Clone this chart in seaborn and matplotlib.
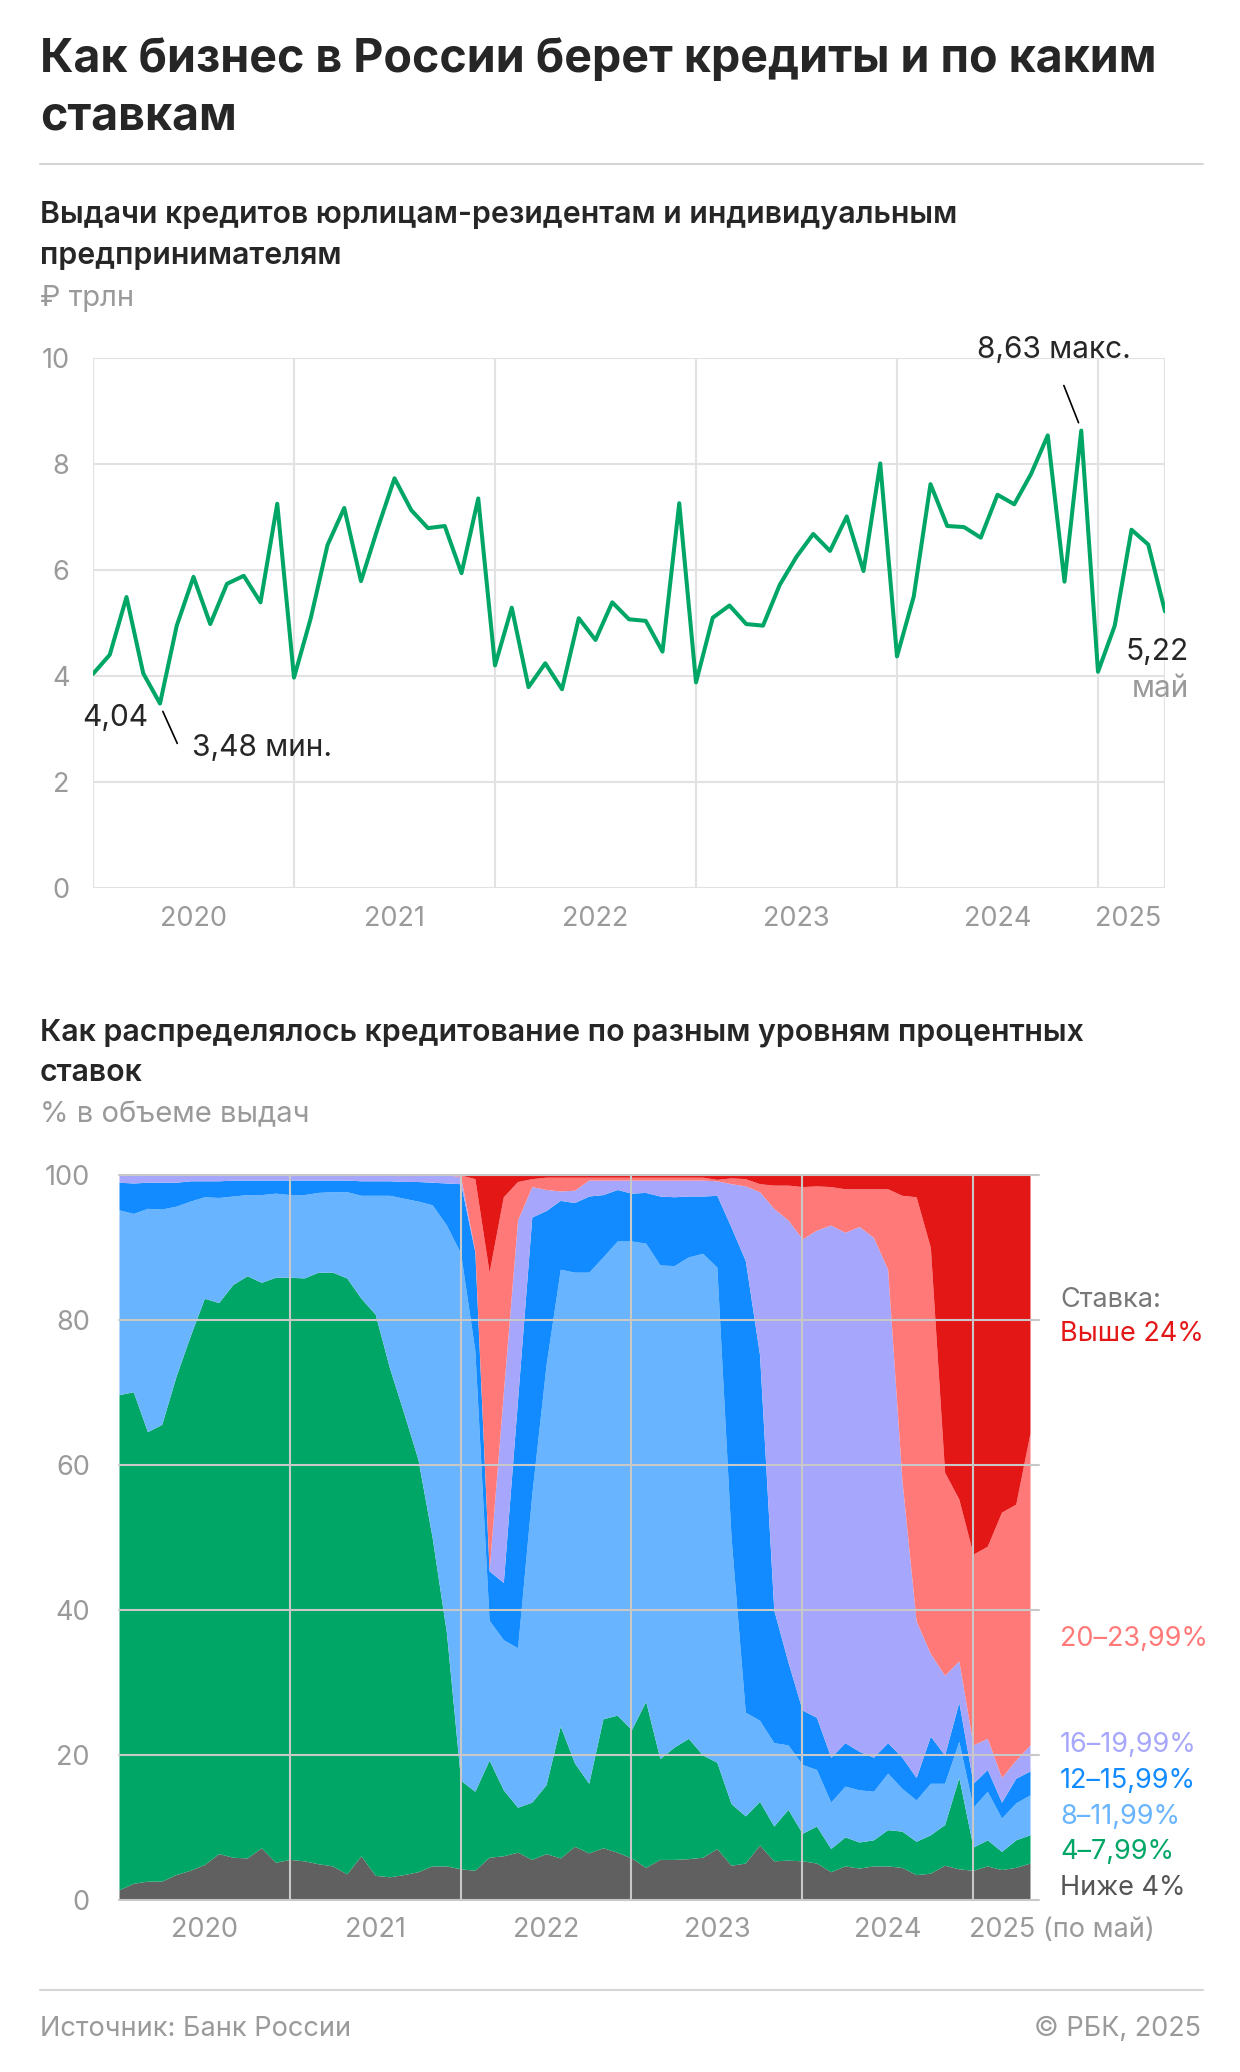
import numpy as np
import pandas as pd
import matplotlib
matplotlib.use("Agg")
import matplotlib.pyplot as plt
import seaborn as sns

# ---- data: monthly, Jan 2020 .. May 2025 (65 months) ----
months = pd.date_range("2020-01-01", "2025-05-01", freq="MS")

# loans issued, trillion rub
issued = [4.04, 4.40, 5.49, 4.05, 3.48, 4.95, 5.87, 4.98, 5.74, 5.89, 5.39, 7.25,
          3.97, 5.09, 6.47, 7.17, 5.79, 6.79, 7.73, 7.13, 6.79, 6.83, 5.94, 7.35,
          4.20, 5.29, 3.79, 4.24, 3.75, 5.09, 4.68, 5.39, 5.07, 5.04, 4.46, 7.26,
          3.88, 5.10, 5.33, 4.98, 4.95, 5.72, 6.25, 6.68, 6.36, 7.01, 5.98, 8.01,
          4.37, 5.50, 7.62, 6.83, 6.81, 6.61, 7.42, 7.24, 7.81, 8.54, 5.78, 8.63,
          4.08, 4.95, 6.76, 6.48, 5.22]

# cumulative share (%) up to the top of each rate band
top_below4 = [1.4, 2.3, 2.6, 2.6, 3.5, 4.1, 4.9, 6.4, 5.9, 5.8, 7.2, 5.2,
              5.6, 5.4, 5.0, 4.7, 3.6, 6.1, 3.4, 3.2, 3.5, 3.9, 4.7, 4.7,
              4.3, 4.1, 5.9, 6.1, 6.6, 5.6, 6.4, 5.8, 7.4, 6.5, 7.2, 6.6,
              5.8, 4.5, 5.6, 5.6, 5.7, 5.9, 7.1, 4.8, 5.1, 7.6, 5.4, 5.5,
              5.4, 5.1, 3.9, 4.7, 4.4, 4.7, 4.7, 4.5, 3.5, 3.7, 4.8, 4.3,
              4.1, 4.7, 4.2, 4.5, 5.1]
top_4_8 = [69.7, 70.1, 64.6, 65.6, 72.2, 77.8, 83.0, 82.4, 84.9, 86.1, 85.2, 85.9,
           85.9, 85.8, 86.6, 86.6, 85.8, 83.0, 80.8, 73.4, 67.2, 60.8, 50.0, 36.9,
           16.5, 15.0, 19.3, 15.2, 12.8, 13.5, 15.9, 24.0, 18.9, 16.1, 25.0, 25.5,
           23.5, 27.4, 19.5, 21.1, 22.3, 20.0, 19.0, 13.3, 11.6, 13.6, 10.2, 12.5,
           9.2, 10.2, 7.1, 8.7, 8.0, 8.3, 9.7, 9.5, 8.1, 9.0, 10.4, 16.9,
           7.3, 8.3, 6.7, 8.3, 9.0]
top_8_12 = [95.2, 94.7, 95.4, 95.3, 95.7, 96.4, 97.0, 96.9, 97.1, 97.3, 97.3, 97.5,
            97.3, 97.3, 97.6, 97.7, 97.7, 97.2, 97.2, 97.2, 96.8, 96.4, 95.9, 93.1,
            89.2, 75.8, 38.6, 35.9, 34.8, 56.0, 73.8, 87.0, 86.6, 86.6, 88.7, 90.9,
            90.9, 90.6, 87.6, 87.5, 88.7, 89.2, 87.3, 50.0, 25.9, 24.8, 21.7, 21.4,
            18.7, 18.0, 13.5, 15.7, 15.2, 15.0, 17.5, 15.4, 13.8, 16.1, 16.1, 21.9,
            12.8, 15.0, 11.3, 13.4, 14.5]
top_12_16 = [99.0, 98.9, 99.0, 99.0, 99.0, 99.2, 99.2, 99.2, 99.3, 99.3, 99.3, 99.3,
             99.3, 99.3, 99.3, 99.3, 99.3, 99.2, 99.2, 99.2, 99.1, 99.1, 99.0, 98.9,
             98.8, 89.4, 45.4, 43.8, 69.0, 94.2, 95.1, 96.5, 96.2, 97.1, 97.3, 98.0,
             97.5, 97.6, 97.1, 97.0, 97.1, 97.1, 97.2, 92.8, 88.2, 75.2, 40.0, 32.8,
             26.2, 25.2, 19.7, 21.7, 20.5, 19.7, 21.7, 19.7, 16.9, 22.6, 20.0, 27.3,
             16.1, 18.0, 13.5, 16.8, 17.8]
top_16_20 = [100.0] * 24 + [
             99.8, 89.5, 45.5, 70.0, 93.8, 98.4, 98.0, 97.8, 97.9, 99.3, 99.3, 99.3,
             99.3, 99.3, 99.3, 99.3, 99.3, 99.3, 99.2, 98.8, 98.5, 97.7, 95.4, 93.8,
             91.2, 92.4, 93.1, 92.1, 92.9, 91.4, 87.0, 58.0, 38.5, 34.0, 31.0, 33.0,
             21.4, 22.3, 16.9, 19.3, 21.4]
top_20_24 = [100.0] * 24 + [
             100.0, 99.5, 86.6, 97.0, 99.1, 99.5, 99.7, 99.7, 99.7, 99.7, 99.7, 99.7,
             99.7, 99.7, 99.7, 99.7, 99.7, 99.7, 99.4, 99.6, 99.5, 98.8, 98.6, 98.6,
             98.4, 98.5, 98.4, 98.1, 98.1, 98.1, 98.1, 97.2, 97.0, 90.0, 59.0, 55.3,
             47.7, 48.8, 53.5, 54.6, 64.4]

band_names = ["Ниже 4%", "4–7,99%", "8–11,99%", "12–15,99%", "16–19,99%",
              "20–23,99%", "Выше 24%"]
band_colors = ["#606060", "#00a665", "#69b4fe", "#118bff", "#a6a6fc",
               "#ff7979", "#e41717"]

line_year_labels = ["2020", "2021", "2022", "2023", "2024", "2025"]
area_year_labels = ["2020", "2021", "2022", "2023", "2024", "2025 (по май)"]

# ---- figure ----
W, H = 1240, 2072
FONT = "Inter"
sns.set_style("white")
plt.rcParams["font.family"] = FONT
fig = plt.figure(figsize=(W / 100, H / 100), dpi=100)


def txt(x, y, s, **kw):
    kw.setdefault("va", "center")
    fig.text(x / W, 1 - y / H, s, **kw)


GREY = "#9a9a9a"
txt(40, 60, "Как бизнес в России берет кредиты и по каким", fontsize=33.5, weight="bold")
txt(40, 117, "ставкам", fontsize=33.5, weight="bold")
fig.add_artist(plt.Line2D([40 / W, 1203 / W], [1 - 164 / H] * 2, color="#d6d6d6", lw=1.5))

txt(40, 215, "Выдачи кредитов юрлицам-резидентам и индивидуальным", fontsize=21.8, weight="semibold")
txt(40, 256, "предпринимателям", fontsize=21.8, weight="semibold")
txt(40, 298, "₽ трлн", fontsize=21, color=GREY)

# ---- line chart ----
x_idx = np.arange(len(months))
ax1 = fig.add_axes([93 / W, 1 - 888 / H, (1165 - 93) / W, (888 - 358) / H])
df = pd.DataFrame({"m": x_idx, "v": issued})
sns.lineplot(data=df, x="m", y="v", ax=ax1, color="#00a665", lw=2.9, zorder=3)
ax1.set_xlim(0, len(months) - 1)
ax1.set_ylim(0, 10)
ax1.set_yticks(range(0, 11, 2))
ax1.set_xticks([])
for yv in range(0, 11, 2):
    ax1.axhline(yv, color="#e2e2e2", lw=1.5, zorder=1)
for xv in [0, 12, 24, 36, 48, 60, len(months) - 1]:
    ax1.axvline(xv, color="#e2e2e2", lw=1.5, zorder=1)
for sp in ax1.spines.values():
    sp.set_visible(False)
ax1.tick_params(axis="y", length=0, pad=17, labelsize=19.5, labelcolor=GREY)
ax1.set_xlabel("")
ax1.set_ylabel("")
for lab, pos in zip(line_year_labels, [6, 18, 30, 42, 54, 61.8]):
    ax1.text(pos, -0.58, lab, ha="center", va="center", fontsize=19.5, color=GREY)

i_min = int(np.argmin(issued))
i_max = int(np.argmax(issued))
last = len(issued) - 1
ann = dict(textcoords="offset points", fontsize=21.5, annotation_clip=False)
ax1.annotate("4,04", (0, issued[0]), xytext=(16, -32), ha="center", va="center", **ann)
ax1.annotate("3,48 мин.", (i_min, issued[i_min]), xytext=(23, -32), ha="left", va="center", **ann)
ax1.annotate("", (i_min + 0.1, issued[i_min] - 0.1), xytext=(i_min + 1.1, issued[i_min] - 0.8),
             textcoords="data", arrowprops=dict(arrowstyle="-", color="black", lw=1.2))
ax1.annotate("8,63 макс.", (i_max, issued[i_max]), xytext=(-20, 58), ha="center",
             va="center", **ann)
ax1.annotate("", (i_max - 0.1, issued[i_max] + 0.1), xytext=(i_max - 1.1, issued[i_max] + 0.9),
             textcoords="data", arrowprops=dict(arrowstyle="-", color="black", lw=1.2))
ax1.annotate("5,22", (last, issued[last]), xytext=(17, -29), ha="right", va="center", **ann)
ax1.annotate("май", (last, issued[last]), xytext=(17, -56), ha="right", va="center",
             color=GREY, **ann)

# ---- area chart ----
txt(40, 1033, "Как распределялось кредитование по разным уровням процентных",
    fontsize=21.8, weight="semibold")
txt(40, 1073, "ставок", fontsize=21.8, weight="semibold")
txt(40, 1115, "% в объеме выдач", fontsize=21, color=GREY)

ax2 = fig.add_axes([119 / W, 1 - 1900 / H, (1030 - 119) / W, (1900 - 1175) / H])
tops = [np.array(t) for t in (top_below4, top_4_8, top_8_12, top_12_16, top_16_20, top_20_24)]
tops.append(np.full(len(months), 100.0))
lower = np.zeros(len(months))
for upper, col in zip(tops, band_colors):
    ax2.fill_between(x_idx, lower, upper, color=col, lw=0, zorder=1)
    lower = upper
ax2.set_xlim(0, len(months) - 1)
ax2.set_ylim(0, 100)
ax2.set_yticks(range(0, 101, 20))
ax2.set_xticks([])
for yv in range(0, 101, 20):
    ax2.plot([0, len(months) - 1 + 0.6], [yv, yv], color="#c8c8c8", lw=1.5, zorder=3,
             clip_on=False)
for xv in [12, 24, 36, 48, 60]:
    ax2.axvline(xv, color="#c8c8c8", lw=1.5, zorder=3)
for sp in ax2.spines.values():
    sp.set_visible(False)
ax2.tick_params(axis="y", length=0, pad=21, labelsize=19.5, labelcolor=GREY)
for lab, pos in zip(area_year_labels, [6, 18, 30, 42, 54, 59.7]):
    ax2.text(pos, -4.2, lab, ha="left" if "по" in lab else "center", va="center",
             fontsize=19.5, color=GREY)

txt(1060, 1300, "Ставка:", fontsize=19.5, color="#777777")
legend_y = [1888, 1852, 1817, 1781, 1745, 1639, 1334]
for name, col, yy in zip(band_names, band_colors, legend_y):
    txt(1060, yy, name, fontsize=19.5, color="#555555" if name == "Ниже 4%" else col)

# ---- footer ----
fig.add_artist(plt.Line2D([40 / W, 1203 / W], [1 - 1990 / H] * 2, color="#d6d6d6", lw=1.5))
txt(40, 2029, "Источник: Банк России", fontsize=19.5, color=GREY)
txt(1201, 2029, "© РБК, 2025", fontsize=19.5, color=GREY, ha="right")

fig.savefig("out.png", dpi=100, facecolor="white")
